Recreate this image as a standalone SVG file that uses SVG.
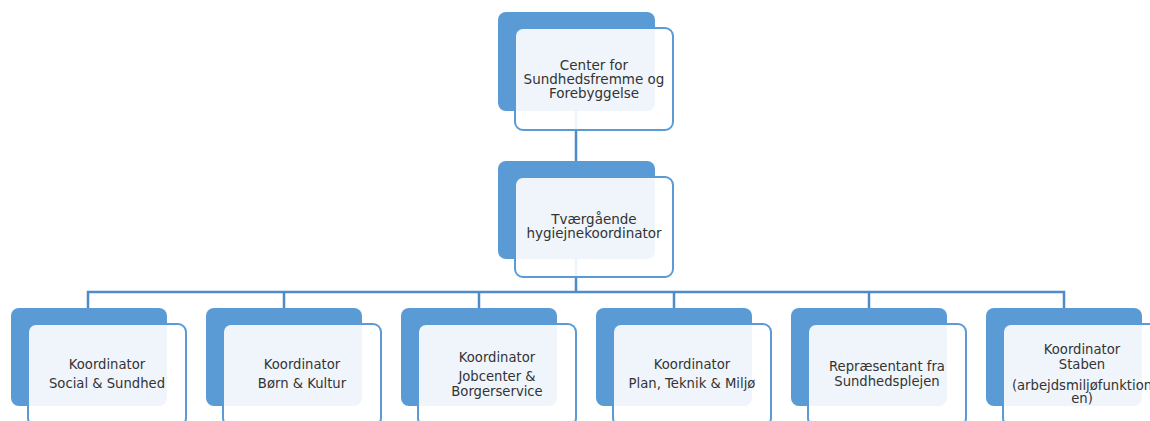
<svg xmlns="http://www.w3.org/2000/svg" width="1150" height="421" viewBox="0 0 1150 421">
<style>
.bg{fill:#5B9BD5}
.fg{fill:#FFFFFF;fill-opacity:0.9;stroke:#5B9BD5;stroke-width:2}
.conn{fill:none;stroke:#4E8BC9;stroke-width:2.5}
text{font-family:"DejaVu Sans","Liberation Sans",sans-serif;fill:#333333;text-anchor:middle}
.t1{font-size:13.5px}
.t2{font-size:13.2px}
</style>
<rect width="1150" height="421" fill="#FFFFFF"/>
<g id="connectors">
<path class="conn" d="M576,111 V161"/>
<path class="conn" d="M576,258 V292"/>
<path class="conn" d="M88,308 V292 H1064 V308"/>
<path class="conn" d="M284,292 V308"/>
<path class="conn" d="M479,292 V308"/>
<path class="conn" d="M674,292 V308"/>
<path class="conn" d="M869,292 V308"/>
</g>
<g id="node-center">
<rect class="bg" x="498" y="12" width="157" height="99" rx="8"/>
<rect class="fg" x="515" y="28" width="158" height="102" rx="8"/>
<text class="t1"><tspan x="594" y="70">Center for</tspan><tspan x="594" y="84">Sundhedsfremme og</tspan><tspan x="594" y="98">Forebyggelse</tspan></text>
</g>
<g id="node-hygiejne">
<rect class="bg" x="498" y="161" width="157" height="98" rx="8"/>
<rect class="fg" x="515" y="177" width="158" height="100" rx="8"/>
<text class="t1"><tspan x="594" y="224">Tværgående</tspan><tspan x="594" y="238">hygiejnekoordinator</tspan></text>
</g>
<g id="node-social">
<rect class="bg" x="11" y="308" width="156" height="98" rx="8"/>
<rect class="fg" x="28" y="324" width="158" height="102" rx="8"/>
<text class="t2"><tspan x="107" y="369">Koordinator</tspan><tspan x="107" y="388">Social &amp; Sundhed</tspan></text>
</g>
<g id="node-boern">
<rect class="bg" x="206" y="308" width="156" height="98" rx="8"/>
<rect class="fg" x="223" y="324" width="158" height="102" rx="8"/>
<text class="t2"><tspan x="302" y="369">Koordinator</tspan><tspan x="302" y="388">Børn &amp; Kultur</tspan></text>
</g>
<g id="node-jobcenter">
<rect class="bg" x="401" y="308" width="156" height="98" rx="8"/>
<rect class="fg" x="418" y="324" width="158" height="102" rx="8"/>
<text class="t2"><tspan x="497" y="362">Koordinator</tspan><tspan x="497" y="381">Jobcenter &amp;</tspan><tspan x="497" y="396">Borgerservice</tspan></text>
</g>
<g id="node-plan">
<rect class="bg" x="596" y="308" width="156" height="98" rx="8"/>
<rect class="fg" x="613" y="324" width="158" height="102" rx="8"/>
<text class="t2"><tspan x="692" y="369">Koordinator</tspan><tspan x="692" y="387.5">Plan, Teknik &amp; Miljø</tspan></text>
</g>
<g id="node-sundhedsplejen">
<rect class="bg" x="791" y="308" width="156" height="98" rx="8"/>
<rect class="fg" x="808" y="324" width="158" height="102" rx="8"/>
<text class="t2"><tspan x="887" y="371">Repræsentant fra</tspan><tspan x="887" y="386">Sundhedsplejen</tspan></text>
</g>
<g id="node-staben">
<rect class="bg" x="986" y="308" width="156" height="98" rx="8"/>
<rect class="fg" x="1003" y="324" width="158" height="102" rx="8"/>
<text class="t2"><tspan x="1082" y="354">Koordinator</tspan><tspan x="1082" y="368.5">Staben</tspan><tspan x="1082" y="390">(arbejdsmiljøfunktion</tspan><tspan x="1082" y="403">en)</tspan></text>
</g>
</svg>
